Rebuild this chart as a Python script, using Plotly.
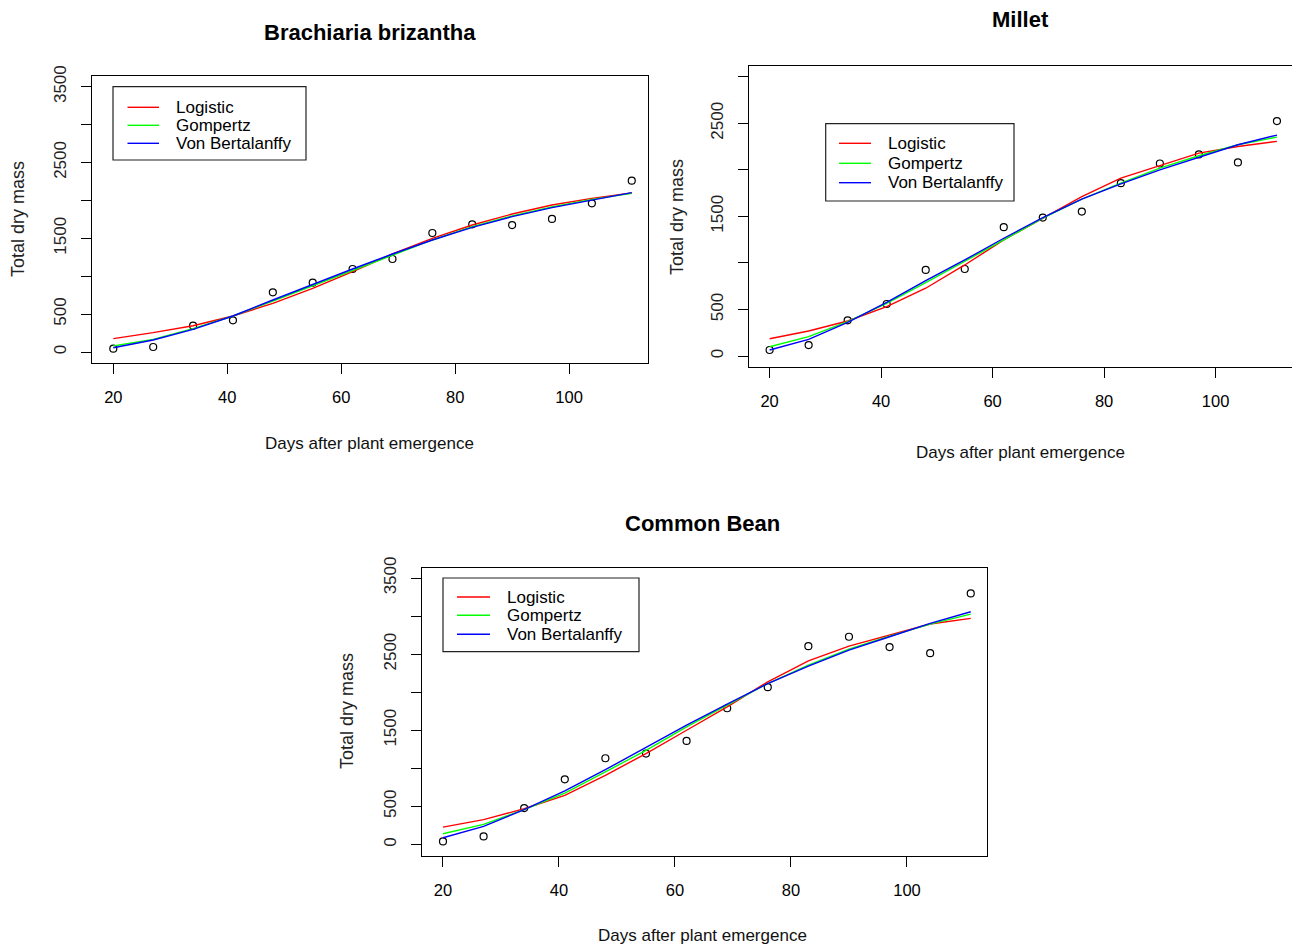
import plotly.graph_objects as go

# ---------------- data ----------------
days = [20, 27, 34, 41, 48, 55, 62, 69, 76, 83, 90, 97, 104, 111]

# Brachiaria brizantha
bra_obs = [44, 66, 347, 418, 787, 915, 1095, 1227, 1570, 1684, 1675, 1755, 1961, 2260]
bra_logistic = [176, 255, 347, 475, 642, 840, 1060, 1293, 1500, 1675, 1820, 1939, 2027, 2098]
bra_gompertz = [79, 167, 308, 475, 673, 875, 1082, 1284, 1478, 1653, 1794, 1913, 2014, 2093]
bra_vonbert = [57, 158, 299, 475, 686, 893, 1095, 1293, 1478, 1645, 1785, 1904, 2005, 2102]

# Millet
mil_obs = [65, 118, 384, 559, 925, 935, 1384, 1487, 1552, 1857, 2068, 2165, 2079, 2523]
mil_logistic = [186, 269, 376, 530, 728, 978, 1247, 1480, 1713, 1910, 2043, 2179, 2251, 2305]
mil_gompertz = [100, 208, 369, 566, 789, 1014, 1247, 1480, 1685, 1857, 2018, 2151, 2269, 2351]
mil_vonbert = [65, 179, 362, 577, 810, 1032, 1265, 1487, 1685, 1849, 2000, 2136, 2269, 2373]

# Common Bean
bean_obs = [39, 105, 478, 855, 1132, 1193, 1360, 1789, 2066, 2605, 2728, 2592, 2513, 3298]
bean_logistic = [228, 325, 469, 645, 908, 1193, 1500, 1807, 2136, 2412, 2605, 2750, 2895, 2969]
bean_gompertz = [140, 263, 456, 675, 952, 1237, 1544, 1829, 2114, 2355, 2566, 2737, 2895, 3026]
bean_vonbert = [88, 237, 456, 702, 982, 1272, 1566, 1842, 2114, 2342, 2553, 2728, 2904, 3057]

model_names = ["Logistic", "Gompertz", "Von Bertalanffy"]
model_colors = ["#FF0000", "#00FF00", "#0000FF"]

x_ticks = [20, 40, 60, 80, 100]
y_ticks_a = [0, 500, 1000, 1500, 2000, 2500, 3000, 3500]
y_text_a = ["0", "500", "", "1500", "", "2500", "", "3500"]
y_ticks_b = [0, 500, 1000, 1500, 2000, 2500, 3000]
y_text_b = ["0", "500", "", "1500", "", "2500", ""]

titles = ["Brachiaria brizantha", "Millet", "Common Bean"]
x_title = "Days after plant emergence"
y_title = "Total dry mass"

W, H = 1292, 946
FONT = "Liberation Sans, Arial, sans-serif"

# layout geometry (pixels)
panels = [
    dict(obs=bra_obs, fits=[bra_logistic, bra_gompertz, bra_vonbert],
         box=(92, 647.7, 76.3, 363), xr=[16.26, 113.8], yr=[-145, 3637],
         yt=(y_ticks_a, y_text_a),
         leg=dict(box=(113, 86.7, 306, 160), line=(127.5, 159), tx=174, rows=(107.3, 125.3, 143.3)),
         title=(370, 32), xt=(370, 443), ytl=(18, 219)),
    dict(obs=mil_obs, fits=[mil_logistic, mil_gompertz, mil_vonbert],
         box=(748.7, 1292, 66, 367.3), xr=[16.25, 113.7], yr=[-121, 3115],
         yt=(y_ticks_b, y_text_b),
         leg=dict(box=(825.7, 123.7, 1014, 201), line=(839, 871), tx=886, rows=(143.3, 163.3, 182.7)),
         title=(1020, 19), xt=(1020, 452), ytl=(677, 217)),
    dict(obs=bean_obs, fits=[bean_logistic, bean_gompertz, bean_vonbert],
         box=(422, 987, 567.5, 856), xr=[16.38, 113.8], yr=[-152, 3638],
         yt=(y_ticks_a, y_text_a),
         leg=dict(box=(443, 578, 639, 651.7), line=(457, 490), tx=505, rows=(597, 615.3, 634.3)),
         title=(703, 523), xt=(703, 935), ytl=(347, 711)),
]


def px(x):
    return x / W


def py(y):
    return 1 - y / H


fig = go.Figure()
layout = dict(
    width=W, height=H, margin=dict(l=0, r=0, t=0, b=0, autoexpand=False),
    paper_bgcolor="white", plot_bgcolor="white",
    font=dict(family=FONT, color="black"),
    showlegend=False,
    annotations=[], shapes=[],
)

for i, p in enumerate(panels):
    n = "" if i == 0 else str(i + 1)
    xa, ya = "x" + n, "y" + n
    fig.add_trace(go.Scatter(
        x=days, y=p["obs"], mode="markers", xaxis=xa, yaxis=ya, name="Observed",
        marker=dict(symbol="circle-open", size=7, color="black", line=dict(width=1.2)),
        showlegend=False, hoverinfo="skip"))
    for name, col, vals in zip(model_names, model_colors, p["fits"]):
        fig.add_trace(go.Scatter(
            x=days, y=vals, mode="lines", name=name, xaxis=xa, yaxis=ya,
            line=dict(color=col, width=1.4), showlegend=False))
    x0, x1, y0, y1 = p["box"]
    layout["xaxis" + n] = dict(
        domain=[px(x0), px(x1)], range=p["xr"], anchor=ya, automargin=False,
        showline=True, mirror=True, linecolor="black", linewidth=1,
        showgrid=False, zeroline=False, ticks="outside", ticklen=10,
        tickcolor="black", tickwidth=1, tickvals=x_ticks,
        tickfont=dict(size=16.5, family=FONT, color="black"), ticklabelstandoff=9)
    layout["yaxis" + n] = dict(
        domain=[py(y1), py(y0)], range=p["yr"], anchor=xa, automargin=False,
        showline=True, mirror=True, linecolor="black", linewidth=1,
        showgrid=False, zeroline=False, ticks="outside", ticklen=10,
        tickcolor="black", tickwidth=1, tickvals=p["yt"][0], ticktext=p["yt"][1],
        tickangle=-90, tickfont=dict(size=17, family=FONT, color="#222"),
        ticklabelstandoff=8)

    # legend (box, colour keys and labels)
    lg = p["leg"]
    bx0, by0, bx1, by1 = lg["box"]
    layout["shapes"].append(dict(
        type="rect", xref="paper", yref="paper", x0=px(bx0), x1=px(bx1),
        y0=py(by1), y1=py(by0), line=dict(color="#222", width=1.2), fillcolor="white",
        layer="above"))
    for name, col, ry in zip(model_names, model_colors, lg["rows"]):
        layout["shapes"].append(dict(
            type="line", xref="paper", yref="paper", x0=px(lg["line"][0]), x1=px(lg["line"][1]),
            y0=py(ry), y1=py(ry), line=dict(color=col, width=1.4), layer="above"))
        layout["annotations"].append(dict(
            text=name, x=px(lg["tx"]), y=py(ry), xref="paper", yref="paper",
            xanchor="left", yanchor="middle", showarrow=False,
            font=dict(size=17, family=FONT, color="black")))

    tx, ty = p["title"]
    layout["annotations"].append(dict(
        text="<b>" + titles[i] + "</b>", x=px(tx), y=py(ty), xref="paper", yref="paper",
        xanchor="center", yanchor="middle", showarrow=False,
        font=dict(size=22, family=FONT, color="black")))
    ax_, ay_ = p["xt"]
    layout["annotations"].append(dict(
        text=x_title, x=px(ax_), y=py(ay_), xref="paper", yref="paper",
        xanchor="center", yanchor="middle", showarrow=False,
        font=dict(size=17, family=FONT, color="#111")))
    bx, by = p["ytl"]
    layout["annotations"].append(dict(
        text=y_title, x=px(bx), y=py(by), xref="paper", yref="paper",
        xanchor="center", yanchor="middle", showarrow=False, textangle=-90,
        font=dict(size=18, family=FONT, color="#222")))

fig.update_layout(**layout)
fig.write_html("out.html")
